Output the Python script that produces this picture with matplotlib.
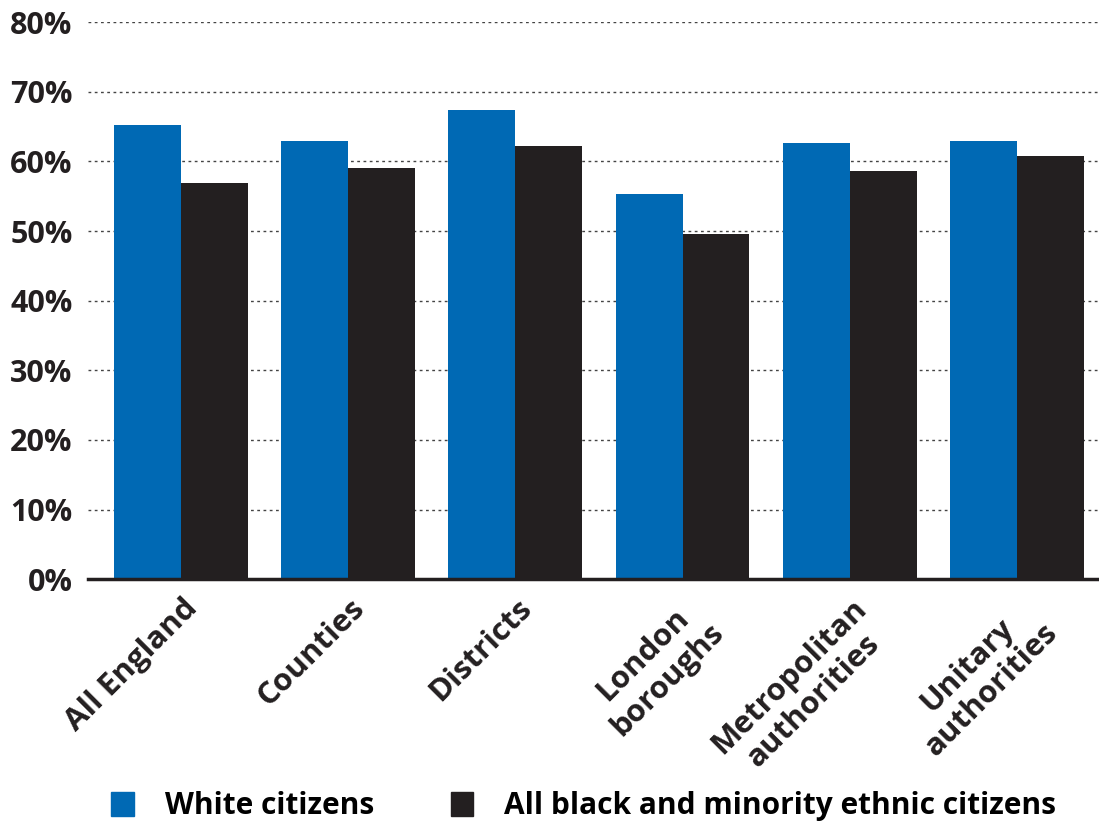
import matplotlib.pyplot as plt
import numpy as np
from matplotlib.patches import Patch

plt.rcParams['font.family'] = ['Open Sans', 'DejaVu Sans']
plt.rcParams['font.weight'] = 'bold'

categories = ['All England', 'Counties', 'Districts', 'London\nboroughs',
              'Metropolitan\nauthorities', 'Unitary\nauthorities']
white = [65.2, 62.9, 67.4, 55.3, 62.6, 62.9]
bme = [56.9, 59.1, 62.2, 49.6, 58.6, 60.8]
series_names = ['White citizens', 'All black and minority ethnic citizens']

blue = '#0069b4'
dark = '#231f20'

fig = plt.figure(figsize=(10.99, 8.25), dpi=100)
ax = fig.add_axes([0.080, 0.298, 0.920, 0.675])

x = np.arange(len(categories))
w = 0.4
ax.bar(x - w / 2, white, width=w, color=blue, zorder=3)
ax.bar(x + w / 2, bme, width=w, color=dark, zorder=3)

ax.set_ylim(0, 80)
ax.set_xlim(-0.556, 5.49)
ax.set_yticks(range(0, 81, 10))
ax.set_yticklabels(['%d%%' % v for v in range(0, 81, 10)], fontsize=22,
                   fontweight='bold', color=dark)
ax.yaxis.grid(True, linestyle=(0, (2, 2.5)), color='#444444', linewidth=1, zorder=0)
ax.tick_params(axis='y', length=0, pad=11)
ax.tick_params(axis='x', length=0, pad=10)

for s in ['top', 'right', 'left']:
    ax.spines[s].set_visible(False)
ax.spines['bottom'].set_color(dark)
ax.spines['bottom'].set_linewidth(2.5)
ax.spines['bottom'].set_zorder(4)

ax.set_xticks(x + 0.01)
ax.set_xticklabels(categories, rotation=45, ha='right', rotation_mode='anchor',
                   fontsize=22.5, fontweight='bold', color=dark, multialignment='center')

handles = [Patch(color=blue), Patch(color=dark)]
fig.legend(handles, series_names, loc='lower left', bbox_to_anchor=(0.077, -0.028),
           ncol=2, frameon=False, handlelength=0.75, handleheight=0.85,
           columnspacing=2.55, handletextpad=1.05,
           prop={'weight': 'bold', 'size': 21.5})

fig.savefig('out.png', dpi=100)
